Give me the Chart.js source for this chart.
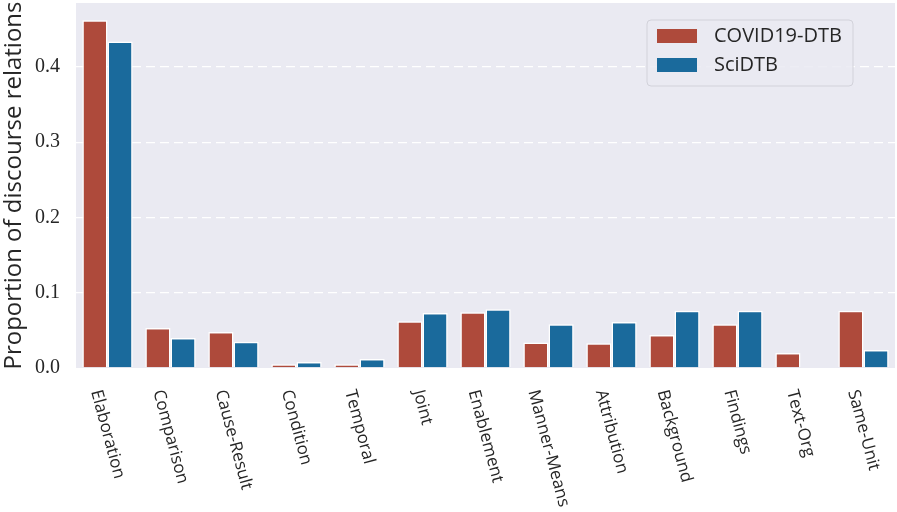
<!DOCTYPE html>
<html>
<head>
<meta charset="utf-8">
<script src="https://cdn.jsdelivr.net/npm/chart.js@4/dist/chart.umd.min.js"></script>
<style>
  html, body { margin: 0; padding: 0; background: #fff; }
  #wrap { width: 897px; height: 512px; position: relative; }
</style>
</head>
<body>
<div id="wrap"><canvas id="chart" width="897" height="512"></canvas></div>
<script>
const categories = ['Elaboration', 'Comparison', 'Cause-Result', 'Condition', 'Temporal', 'Joint',
  'Enablement', 'Manner-Means', 'Attribution', 'Background', 'Findings', 'Text-Org', 'Same-Unit'];
const covidValues = [0.462, 0.053, 0.048, 0.005, 0.005, 0.062, 0.074, 0.034, 0.033, 0.044, 0.058, 0.020, 0.076];
const scidtbValues = [0.434, 0.040, 0.035, 0.008, 0.012, 0.073, 0.078, 0.058, 0.061, 0.076, 0.076, 0.0, 0.024];
const yTicks = [0.0, 0.1, 0.2, 0.3, 0.4];

const bgPlugin = {
  id: 'bg',
  beforeDraw(chart) {
    const { ctx, chartArea: a } = chart;
    ctx.save();
    ctx.fillStyle = '#EAEAF2';
    ctx.fillRect(a.left, a.top, a.right - a.left, a.bottom - a.top);
    ctx.restore();
  }
};

// rotated x labels, matplotlib style (rotation -75, ha center, va top)
const xLabelPlugin = {
  id: 'xlabels',
  afterDraw(chart) {
    const { ctx } = chart;
    const xs = chart.scales.x;
    const th = 75 * Math.PI / 180;
    const c = Math.cos(th), s = Math.sin(th);
    const h = 17;
    ctx.save();
    ctx.font = '17px "Open Sans"';
    ctx.fillStyle = '#262626';
    ctx.textAlign = 'left';
    ctx.textBaseline = 'middle';
    categories.forEach((lab, i) => {
      const w = ctx.measureText(lab).width;
      const pts = [[0, -h / 2], [w, -h / 2], [0, h / 2], [w, h / 2]].map(([x, y]) => [x * c - y * s, x * s + y * c]);
      const minX = Math.min(...pts.map(p => p[0])), maxX = Math.max(...pts.map(p => p[0]));
      const minY = Math.min(...pts.map(p => p[1]));
      const tx = xs.getPixelForValue(i);
      const top = chart.chartArea.bottom + 20;
      ctx.save();
      ctx.translate(tx - (minX + maxX) / 2, top - minY);
      ctx.rotate(th);
      ctx.fillText(lab, 0, 0);
      ctx.restore();
    });
    ctx.restore();
  }
};

const legendPlugin = {
  id: 'boxlegend',
  afterDraw(chart) {
    const { ctx } = chart;
    const x = 647, y = 20, w = 206, hh = 66;
    ctx.save();
    ctx.beginPath();
    ctx.roundRect(x, y, w, hh, 4);
    ctx.fillStyle = 'rgba(234,234,242,0.85)';
    ctx.fill();
    ctx.strokeStyle = '#D2D2DA';
    ctx.lineWidth = 1;
    ctx.stroke();
    ctx.font = '20px "Open Sans"';
    ctx.textBaseline = 'middle';
    chart.data.datasets.forEach((ds, i) => {
      const cy = 36 + i * 29;
      ctx.fillStyle = ds.backgroundColor;
      ctx.fillRect(657, cy - 7, 40, 14);
      ctx.fillStyle = '#262626';
      ctx.fillText(ds.label, 714, cy);
    });
    ctx.restore();
  }
};

new Chart(document.getElementById('chart'), {
  type: 'bar',
  data: {
    labels: categories,
    datasets: [
      { label: 'COVID19-DTB', data: covidValues, backgroundColor: '#AE4A3B', borderColor: '#FFFFFF', borderWidth: 1.5 },
      { label: 'SciDTB', data: scidtbValues, backgroundColor: '#1A6A9C', borderColor: '#FFFFFF', borderWidth: 1.5 }
    ]
  },
  options: {
    responsive: false,
    animation: false,
    devicePixelRatio: 1,
    layout: { padding: { top: 3, right: 2, left: 0, bottom: 0 } },
    datasets: { bar: { categoryPercentage: 0.8, barPercentage: 1.0 } },
    plugins: {
      legend: { display: false },
      tooltip: { enabled: false }
    },
    scales: {
      x: {
        grid: { display: false, drawTicks: false },
        border: { display: false },
        ticks: { display: false },
        afterFit(scale) {
          scale.height = 144;
          scale.paddingLeft = 0; scale.paddingRight = 0;
        }
      },
      y: {
        min: 0,
        max: 0.485,
        afterBuildTicks(scale) { scale.ticks = yTicks.map(v => ({ value: v })); },
        afterFit(scale) {
          scale.width = 76;
          scale.paddingTop = 0; scale.paddingBottom = 0;
        },
        grid: {
          drawTicks: false,
          lineWidth: 1.3,
          color: ctx => (ctx.tick && ctx.tick.value === 0 ? 'rgba(0,0,0,0)' : '#FFFFFF')
        },
        border: { display: false, dash: [9, 5] },
        ticks: {
          padding: 16,
          color: '#262626',
          font: { family: '"Liberation Serif"', size: 20 },
          callback: v => v.toFixed(1)
        },
        title: {
          display: true,
          text: 'Proportion of discourse relations',
          color: '#262626',
          font: { family: '"Open Sans"', size: 24 },
          padding: { top: 0, bottom: 0 }
        }
      }
    }
  },
  plugins: [bgPlugin, xLabelPlugin, legendPlugin]
});
</script>
</body>
</html>
